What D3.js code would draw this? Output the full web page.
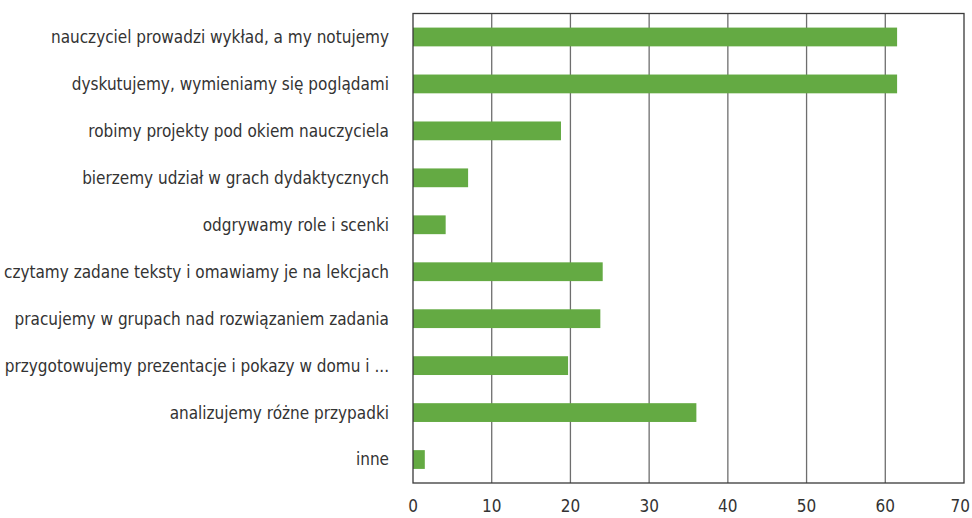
<!DOCTYPE html>
<meta charset="utf-8">
<style>
body { margin: 0; background: #fff; }
.label { font-family: "Liberation Sans Narrow", "DejaVu Sans Condensed", "Roboto", sans-serif; fill: #333; }
.grid line { stroke: #6e6e6e; stroke-width: 1.3; }
.bar { fill: #64aa43; }
</style>
<body></body>
<script src="https://d3js.org/d3.v7.min.js"></script>
<script>
// categories, top to bottom
var categories = [
  "nauczyciel prowadzi wykład, a my notujemy",
  "dyskutujemy, wymieniamy się poglądami",
  "robimy projekty pod okiem nauczyciela",
  "bierzemy udział w grach dydaktycznych",
  "odgrywamy role i scenki",
  "czytamy zadane teksty i omawiamy je na lekcjach",
  "pracujemy w grupach nad rozwiązaniem zadania",
  "przygotowujemy prezentacje i pokazy w domu i ...",
  "analizujemy różne przypadki",
  "inne"
];
var values = [61.5, 61.5, 18.8, 7.0, 4.15, 24.1, 23.8, 19.7, 36.0, 1.5];
var ticks = [0, 10, 20, 30, 40, 50, 60, 70];

var W = 972, H = 518;
var margin = {top: 13.5, right: 8, bottom: 35, left: 413};

var svg = d3.select("body").append("svg")
    .attr("width", W)
    .attr("height", H);

var x = d3.scaleLinear()
    .domain([0, 70])
    .range([margin.left, W - margin.right]);

var y = d3.scaleBand()
    .domain(categories)
    .range([margin.top, H - margin.bottom])
    .paddingInner(0.6)
    .paddingOuter(0.3);

// vertical grid lines
svg.append("g")
    .attr("class", "grid")
  .selectAll("line")
  .data(ticks.slice(1, -1))
  .enter().append("line")
    .attr("x1", function(d) { return x(d); })
    .attr("x2", function(d) { return x(d); })
    .attr("y1", margin.top)
    .attr("y2", H - margin.bottom);

// bars
svg.selectAll(".bar")
    .data(values)
  .enter().append("rect")
    .attr("class", "bar")
    .attr("x", x(0))
    .attr("y", function(d, i) { return y(categories[i]); })
    .attr("width", function(d) { return x(d) - x(0); })
    .attr("height", y.bandwidth());

// plot frame
svg.append("rect")
    .attr("x", x(0))
    .attr("y", margin.top)
    .attr("width", x(70) - x(0))
    .attr("height", H - margin.bottom - margin.top)
    .attr("fill", "none")
    .attr("stroke", "#3a3a3a")
    .attr("stroke-width", 1.3);

// category labels
svg.append("g").selectAll("text")
    .data(categories)
  .enter().append("text")
    .attr("class", "label")
    .attr("x", 389)
    .attr("y", function(d) { return y(d) + y.bandwidth() / 2; })
    .attr("dy", "0.35em")
    .attr("text-anchor", "end")
    .style("font-size", "17px")
    .text(function(d) { return d; });

// x tick labels (last one kept inside the page edge)
svg.append("g").selectAll("text")
    .data(ticks)
  .enter().append("text")
    .attr("class", "label")
    .attr("x", function(d, i) { return i === ticks.length - 1 ? W - 2 : x(d); })
    .attr("y", 512)
    .attr("text-anchor", function(d, i) { return i === ticks.length - 1 ? "end" : "middle"; })
    .style("font-size", "17px")
    .text(function(d) { return d; });
</script>
